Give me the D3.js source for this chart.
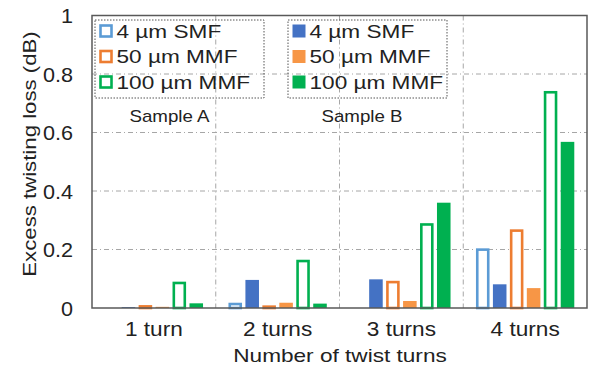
<!DOCTYPE html>
<html><head><meta charset="utf-8">
<script src="https://cdn.jsdelivr.net/npm/d3@7"></script>
<style>body{margin:0;background:#fff}svg{display:block}text{font-family:Arial,"Liberation Sans",sans-serif;fill:#222}</style>
</head><body><svg id="c" width="591" height="380"></svg>
<script>
const categories = ["1 turn","2 turns","3 turns","4 turns"];
const seriesNames = ["4 µm SMF A","4 µm SMF B","50 µm MMF A","50 µm MMF B","100 µm MMF A","100 µm MMF B"];
const smfA = [0, 0.018, 0, 0.204];
const smfB = [0.003, 0.096, 0.098, 0.081];
const mmf50A = [0.01, 0.009, 0.093, 0.269];
const mmf50B = [0.004, 0.018, 0.024, 0.068];
const mmf100A = [0.09, 0.165, 0.29, 0.742];
const mmf100B = [0.016, 0.015, 0.36, 0.568];
const yTicks = [0, 0.2, 0.4, 0.6, 0.8, 1];
const legendLabels = ["4 µm SMF","50 µm MMF","100 µm MMF"];

const series = [
  {vals: smfA, color:"#5B9BD5", open:true},
  {vals: smfB, color:"#4472C4", open:false},
  {vals: mmf50A, color:"#ED7D31", open:true},
  {vals: mmf50B, color:"#F79646", open:false},
  {vals: mmf100A, color:"#00B050", open:true},
  {vals: mmf100B, color:"#00B050", open:false}
];

const svg = d3.select("#c");
const L=92, R=587, T=15.5, B=308;
const x = d3.scaleBand().domain(categories).range([L,R]).paddingInner(0).paddingOuter(0);
const xs = d3.scaleBand().domain(d3.range(6)).range([0,x.bandwidth()]).paddingInner(0.2).paddingOuter(0.75);
const y = d3.scaleLinear().domain([0,1]).range([B,T]);

const grid = svg.append("g").attr("stroke","#a6a6a6").attr("stroke-width",1).attr("stroke-dasharray","5,3,1,3");
grid.selectAll("line.h").data(yTicks.filter(v=>v>0&&v<1)).join("line")
  .attr("x1",L).attr("x2",R).attr("y1",d=>y(d)).attr("y2",d=>y(d));
grid.selectAll("line.v").data(categories.slice(1)).join("line")
  .attr("x1",d=>x(d)).attr("x2",d=>x(d)).attr("y1",T).attr("y2",B);

// bars
series.forEach((s,i)=>{
  const g = svg.append("g");
  g.selectAll("rect").data(categories.map((c,j)=>({c,v:s.vals[j]}))).join("rect")
    .attr("x",d=>x(d.c)+xs(i)+(s.open?1.3:0))
    .attr("width",xs.bandwidth()-(s.open?2.6:0))
    .attr("y",d=>y(d.v)+(s.open?1.3:0))
    .attr("height",d=>Math.max(0,B-y(d.v)-(s.open?1.3:0)))
    .attr("fill",s.open?"#fff":s.color)
    .attr("stroke",s.open?s.color:"none")
    .attr("stroke-width",s.open?2.6:0)
    .attr("display",d=>d.v>0?null:"none");
});

// frame
svg.append("rect").attr("x",L).attr("y",T).attr("width",R-L).attr("height",B-T)
  .attr("fill","none").attr("stroke","#595959").attr("stroke-width",1.5);

// helper: stretched text
function stext(x0,y0,str,size,sx,anchor,rot){
  return svg.append("text")
    .attr("transform",`translate(${x0},${y0})${rot?` rotate(${rot})`:""} scale(${sx},1)`)
    .attr("text-anchor",anchor||"start").style("font-size",size+"px").text(str);
}

// y axis
const ySx = 1.08, yPad = 19;
const ya = svg.append("g").attr("transform",`translate(${L},0)`)
  .call(d3.axisLeft(y).tickValues(yTicks).tickSize(0).tickPadding(yPad).tickFormat(d=>d3.format("~g")(d)));
ya.select(".domain").remove();
ya.selectAll("text").style("font-size","20px").attr("fill","#222").attr("dy","0.35em")
  .attr("x",-yPad/ySx).attr("transform",`scale(${ySx},1)`);

// x axis
const xSx = 1.16;
const xa = svg.append("g").attr("transform",`translate(0,${B})`)
  .call(d3.axisBottom(x).tickSize(0).tickPadding(14));
xa.select(".domain").remove();
xa.selectAll("text").style("font-size","19.5px").attr("fill","#222").attr("transform",`scale(${xSx},1)`);

stext(340,362,"Number of twist turns",19,1.19,"middle");
stext(36,154,"Excess twisting loss (dB)",18.5,1.2,"middle",-90);

// legends
function legend(x0, w, open, colors){
  const g = svg.append("g");
  g.append("rect").attr("x",x0).attr("y",20).attr("width",w).attr("height",78)
    .attr("fill","none").attr("stroke","#555").attr("stroke-width",1).attr("stroke-dasharray","1.5,1.5");
  legendLabels.forEach((t,i)=>{
    const cy = 31 + i*25.5;
    if(open){
      g.append("rect").attr("x",x0+5.5).attr("y",cy-5.5).attr("width",11).attr("height",11)
        .attr("fill","#fff").attr("stroke",colors[i]).attr("stroke-width",2.6);
    } else {
      g.append("rect").attr("x",x0+4.5).attr("y",cy-6.5).attr("width",13).attr("height",13).attr("fill",colors[i]);
    }
    stext(x0+21.5,cy+6.8,t,19,1.19,"start");
  });
}
legend(95,169,true,["#5B9BD5","#ED7D31","#00B050"]);
legend(288,159,false,["#4472C4","#F79646","#00B050"]);

stext(169.5,122,"Sample A",16,1.17,"middle");
stext(362,122,"Sample B",16,1.17,"middle");
</script></body></html>
